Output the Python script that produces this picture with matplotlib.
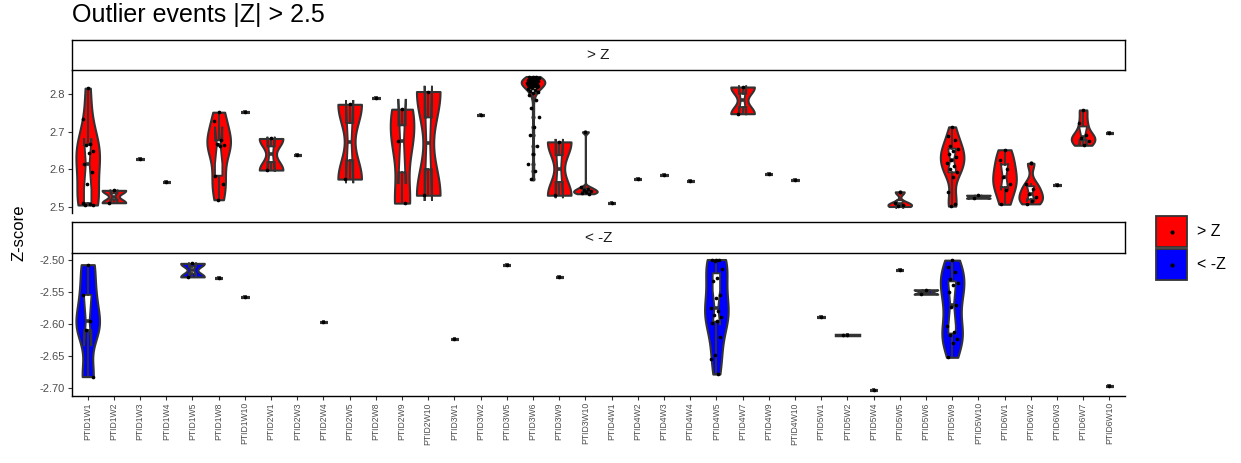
import numpy as np
import matplotlib
matplotlib.use("Agg")
import matplotlib.pyplot as plt
from matplotlib.patches import Rectangle
from matplotlib.lines import Line2D

plt.rcParams['font.family'] = ['Liberation Sans', 'DejaVu Sans']
plt.rcParams['axes.unicode_minus'] = False

# sample / week ids on the shared x axis
categories = ["PTID1W1", "PTID1W2", "PTID1W3", "PTID1W4", "PTID1W5", "PTID1W8", "PTID1W10",
              "PTID2W1", "PTID2W3", "PTID2W4", "PTID2W5", "PTID2W8", "PTID2W9", "PTID2W10",
              "PTID3W1", "PTID3W2", "PTID3W5", "PTID3W6", "PTID3W9", "PTID3W10",
              "PTID4W1", "PTID4W2", "PTID4W3", "PTID4W4", "PTID4W5", "PTID4W7", "PTID4W9", "PTID4W10",
              "PTID5W1", "PTID5W2", "PTID5W4", "PTID5W5", "PTID5W6", "PTID5W9", "PTID5W10",
              "PTID6W1", "PTID6W2", "PTID6W3", "PTID6W7", "PTID6W10"]

# z-scores above +2.5, one list per category
high_z = [
    [2.816, 2.735, 2.668, 2.665, 2.650, 2.644, 2.615, 2.594, 2.561, 2.510, 2.507, 2.506, 2.505],
    [2.544, 2.511],
    [2.627],
    [2.566],
    [],
    [2.752, 2.728, 2.677, 2.668, 2.664, 2.661, 2.583, 2.562, 2.519],
    [2.752],
    [2.682, 2.598],
    [2.639],
    [],
    [2.773, 2.574],
    [2.789],
    [2.760, 2.674, 2.510],
    [2.807, 2.531],
    [],
    [2.744],
    [],
    [2.847, 2.846, 2.845, 2.844, 2.843, 2.842, 2.841, 2.840, 2.839, 2.838, 2.837, 2.836,
     2.835, 2.834, 2.833, 2.832, 2.831, 2.830, 2.829, 2.828, 2.827, 2.826, 2.825, 2.824,
     2.823, 2.822, 2.821, 2.820, 2.818, 2.816, 2.814, 2.812, 2.809, 2.806, 2.802, 2.797,
     2.785, 2.762, 2.740, 2.712, 2.690, 2.662, 2.640, 2.615, 2.596, 2.574],
    [2.673, 2.531],
    [2.700, 2.553, 2.548, 2.545, 2.542, 2.540, 2.537, 2.535],
    [2.510],
    [2.574],
    [2.585],
    [2.568],
    [],
    [2.819, 2.748],
    [2.588],
    [2.571],
    [],
    [],
    [],
    [2.540, 2.510, 2.504, 2.501],
    [],
    [2.713, 2.688, 2.679, 2.662, 2.655, 2.648, 2.640, 2.632, 2.625, 2.618, 2.610, 2.600,
     2.592, 2.580, 2.540, 2.508, 2.502],
    [2.531, 2.523],
    [2.652, 2.625, 2.600, 2.580, 2.560, 2.545, 2.507],
    [2.616, 2.562, 2.548, 2.535, 2.525, 2.515, 2.508],
    [2.558],
    [2.758, 2.722, 2.690, 2.684, 2.676, 2.664],
    [2.697],
]

# z-scores below -2.5
low_z = [
    [-2.508, -2.555, -2.596, -2.610, -2.682],
    [], [], [],
    [-2.506, -2.527],
    [-2.529],
    [-2.559],
    [], [],
    [-2.597],
    [], [], [], [],
    [-2.623],
    [],
    [-2.508],
    [],
    [-2.527],
    [], [], [], [], [],
    [-2.500, -2.501, -2.501, -2.503, -2.514, -2.529, -2.533, -2.555, -2.560, -2.575,
     -2.580, -2.586, -2.590, -2.595, -2.598, -2.620, -2.648, -2.655, -2.678],
    [], [], [],
    [-2.589],
    [-2.617, -2.617],
    [-2.702],
    [-2.516],
    [-2.547, -2.554],
    [-2.501, -2.512, -2.519, -2.531, -2.537, -2.540, -2.551, -2.570, -2.574, -2.604,
     -2.612, -2.618, -2.624, -2.629, -2.652],
    [], [], [], [], [],
    [-2.697],
]

facet_labels = ["> Z", "< -Z"]
facet_colors = ["#FF0000", "#0000FF"]

EDGE = "#333333"
W, H = 1241, 463


def density(vals):
    # gaussian kde with R's nrd0 bandwidth, trimmed to the data range
    v = np.asarray(vals, dtype=float)
    sd = v.std(ddof=1)
    q75, q25 = np.percentile(v, [75, 25])
    lo = min(sd, (q75 - q25) / 1.34)
    if lo == 0:
        lo = sd if sd > 0 else abs(v[0])
    bw = 0.9 * lo * len(v) ** -0.2
    ys = np.linspace(v.min(), v.max(), 512)
    d = np.exp(-0.5 * ((ys[:, None] - v[None, :]) / bw) ** 2).sum(axis=1)
    return ys, d / d.max()


def draw_panel(ax, groups, color):
    for i, vals in enumerate(groups):
        if not vals:
            continue
        v = np.asarray(vals, dtype=float)
        if len(v) > 1:
            if v.max() > v.min():
                ys, w = density(v)
                ax.fill_betweenx(ys, i - 0.45 * w, i + 0.45 * w, facecolor=color,
                                 edgecolor=EDGE, linewidth=1.5, zorder=1)
            else:
                ax.plot([i - 0.45, i + 0.45], [v[0], v[0]], color=EDGE, lw=2.5, zorder=1)
        lw = 1.3 if len(v) > 1 else 2.2
        ax.boxplot(v, positions=[i], widths=0.28, notch=True, patch_artist=True,
                   showcaps=False, manage_ticks=False,
                   boxprops=dict(facecolor="white", edgecolor=EDGE, linewidth=lw),
                   medianprops=dict(color=EDGE, linewidth=2.6),
                   whiskerprops=dict(color=EDGE, linewidth=1.3),
                   flierprops=dict(marker="o", markerfacecolor=EDGE, markeredgecolor="none",
                                   markersize=3), zorder=2)
        off = ((np.arange(len(v)) * 0.618034 + 0.5) % 1 - 0.5) * 0.45
        ax.scatter(i + off, v, s=7, color="black", linewidths=0, zorder=4)
    allv = np.concatenate([g for g in groups if g])
    pad = (allv.max() - allv.min()) * 0.05
    ax.set_ylim(allv.min() - pad, allv.max() + pad)
    ax.set_xlim(-0.6, len(categories) - 0.4)
    ax.patch.set_visible(False)
    for s in ["top", "right"]:
        ax.spines[s].set_visible(False)
    ax.spines["left"].set_linewidth(1.0)
    ax.spines["bottom"].set_linewidth(1.0)
    ax.tick_params(axis="y", labelsize=8, labelcolor="#4D4D4D", color=EDGE,
                   length=3, width=0.8, pad=2)


def fig_rect(x0, y0, x1, y1):
    return [x0 / W, 1 - y1 / H, (x1 - x0) / W, (y1 - y0) / H]


fig = plt.figure(figsize=(W / 100, H / 100), dpi=100)

panel_rows = [(40, 70, 213), (222, 253, 396)]
panels = []
for k, (s_top, p_top, p_bot) in enumerate(panel_rows):
    ax = fig.add_axes(fig_rect(72, p_top, 1125, p_bot))
    groups = high_z if k == 0 else low_z
    draw_panel(ax, groups, facet_colors[k])
    panels.append(ax)

    strip = fig.add_axes(fig_rect(72, s_top, 1125, p_top))
    strip.set_xticks([])
    strip.set_yticks([])
    for sp in strip.spines.values():
        sp.set_linewidth(1.0)
        sp.set_color("black")
    strip.text(0.5, 0.5, facet_labels[k], ha="center", va="center", fontsize=11,
               color="#1A1A1A", transform=strip.transAxes)

top, bottom = panels
top.spines["bottom"].set_visible(False)
top.set_xticks([])
top.set_yticks([2.5, 2.6, 2.7, 2.8])
top.set_yticklabels(["2.5", "2.6", "2.7", "2.8"])

bottom.set_yticks([-2.70, -2.65, -2.60, -2.55, -2.50])
bottom.set_yticklabels(["%.2f" % t for t in [-2.70, -2.65, -2.60, -2.55, -2.50]])
bottom.set_xticks(range(len(categories)))
bottom.set_xticklabels(categories, rotation=90, fontsize=6.2, color="#4D4D4D")
bottom.tick_params(axis="x", color=EDGE, length=3, width=0.8, pad=1.5)

fig.text(72 / W, 1 - 15 / H, "Outlier events |Z| > 2.5", fontsize=18, va="center", ha="left")
fig.text(19 / W, 1 - 233 / H, "Z-score", fontsize=12, rotation=90, va="center", ha="center")

# legend keys
for k, (y0, y1) in enumerate([(216, 247), (249, 280)]):
    fig.add_artist(Rectangle((1156 / W, 1 - y1 / H), 31 / W, (y1 - y0) / H,
                             transform=fig.transFigure, facecolor=facet_colors[k],
                             edgecolor=EDGE, linewidth=1.3))
    cy = 1 - (y0 + y1) / 2 / H
    fig.add_artist(Line2D([1171.5 / W], [cy], marker="o", markersize=2, color="black",
                          transform=fig.transFigure))
    fig.text(1197 / W, cy, facet_labels[k], fontsize=11.5, va="center", ha="left")

plt.savefig("out.png", dpi=100)
